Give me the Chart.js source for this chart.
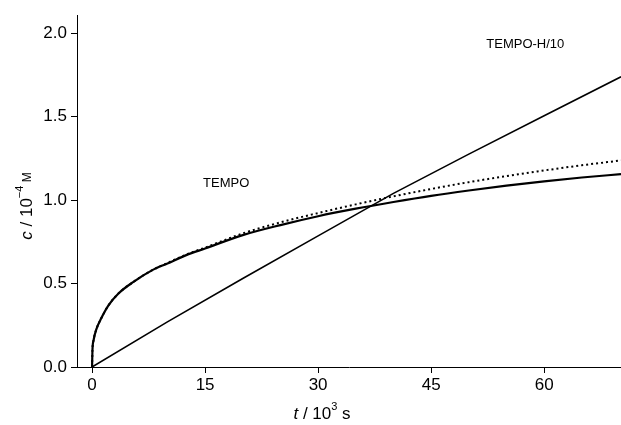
<!DOCTYPE html>
<html>
<head>
<meta charset="utf-8">
<script src="https://cdn.jsdelivr.net/npm/chart.js@4.4.1/dist/chart.umd.min.js"></script>
<style>
html,body{margin:0;padding:0;background:#fff;}
#wrap{width:621px;height:425px;position:relative;}
</style>
</head>
<body>
<div id="wrap"><canvas id="c" width="621" height="425"></canvas></div>
<script>
// TEMPO (solid, measured)
const tempoT = [0, 0.05, 0.2, 0.6, 1.2, 2.2, 3.5, 5.5, 8, 10, 12.5, 15, 20, 25, 30, 35, 40, 45, 50, 55, 60, 65, 70.2];
const tempoC = [0, 0.10, 0.16, 0.23, 0.29, 0.37, 0.44, 0.51, 0.58, 0.62, 0.67, 0.71, 0.79, 0.85, 0.903, 0.948, 0.988, 1.025, 1.057, 1.086, 1.112, 1.135, 1.155];
// TEMPO (dotted, simulated)
const fitT = [0, 0.05, 0.2, 0.6, 1.2, 2.2, 3.5, 5.5, 8, 10, 12.5, 15, 20, 25, 30, 35, 40, 45, 50, 55, 60, 65, 70.2];
const fitC = [0, 0.10, 0.16, 0.23, 0.29, 0.37, 0.44, 0.51, 0.58, 0.623, 0.673, 0.715, 0.80, 0.866, 0.922, 0.974, 1.022, 1.066, 1.107, 1.143, 1.177, 1.208, 1.237];
// TEMPO-H / 10
const hT = [0, 10, 20, 30, 40, 50, 60, 70.2];
const hC = [0, 0.27, 0.53, 0.785, 1.04, 1.275, 1.505, 1.738];
// Axis ticks
const xTicks = [0, 15, 30, 45, 60];
const yTicks = [0.0, 0.5, 1.0, 1.5, 2.0];

const zip = (xs, ys) => xs.map((x, i) => ({x: x, y: ys[i]}));
const FONT = "'Liberation Sans', Arial, Helvetica, sans-serif";

function drawRuns(ctx, runs, cx, cy) {
  let w = 0;
  runs.forEach(r => { ctx.font = r.font; r.w = ctx.measureText(r.text).width; w += r.w; });
  let x = cx - w / 2;
  ctx.textBaseline = 'middle';
  ctx.textAlign = 'left';
  runs.forEach(r => { ctx.font = r.font; ctx.fillText(r.text, x, cy + (r.dy || 0)); x += r.w; });
}

const textPlugin = {
  id: 'texts',
  afterDraw(chart) {
    const ctx = chart.ctx;
    const xs = chart.scales.x, ys = chart.scales.y;
    ctx.save();
    ctx.fillStyle = '#000';
    // series labels
    ctx.font = '13px ' + FONT;
    ctx.textAlign = 'center';
    ctx.textBaseline = 'middle';
    ctx.fillText('TEMPO', xs.getPixelForValue(17.8), ys.getPixelForValue(1.10));
    ctx.fillText('TEMPO-H/10', xs.getPixelForValue(57.5), ys.getPixelForValue(1.93));
    // x title
    drawRuns(ctx, [
      {text: 't', font: 'italic 17px ' + FONT},
      {text: ' / 10', font: '17px ' + FONT},
      {text: '3', font: '11px ' + FONT, dy: -7},
      {text: ' s', font: '17px ' + FONT}
    ], 322, 414);
    // y title
    ctx.translate(27, 206);
    ctx.rotate(-Math.PI / 2);
    drawRuns(ctx, [
      {text: 'c', font: 'italic 17px ' + FONT},
      {text: ' / 10', font: '17px ' + FONT},
      {text: '\u22124', font: '11px ' + FONT, dy: -7},
      {text: ' M', font: '12px ' + FONT, dy: 1}
    ], 0, 0);
    ctx.restore();
  }
};

new Chart(document.getElementById('c'), {
  type: 'line',
  data: {
    datasets: [
      {label: 'TEMPO', data: zip(tempoT, tempoC), borderColor: '#000', borderWidth: 2.2,
       pointRadius: 0, cubicInterpolationMode: 'monotone', fill: false},
      {label: 'TEMPO sim', data: zip(fitT, fitC), borderColor: '#000', borderWidth: 2,
       borderDash: [2, 3], pointRadius: 0, cubicInterpolationMode: 'monotone', fill: false},
      {label: 'TEMPO-H/10', data: zip(hT, hC), borderColor: '#000', borderWidth: 1.6,
       pointRadius: 0, tension: 0, fill: false}
    ]
  },
  options: {
    responsive: false,
    animation: false,
    devicePixelRatio: 1,
    layout: {padding: {top: 15, right: 0, left: 0, bottom: 0}},
    plugins: {legend: {display: false}, tooltip: {enabled: false}},
    scales: {
      x: {
        type: 'linear', min: -2, max: 70.2,
        afterFit(s) { s.height = 58; },
        afterBuildTicks(s) { s.ticks = xTicks.map(v => ({value: v})); },
        grid: {display: true, drawOnChartArea: false, drawTicks: true, tickLength: 6, color: '#000', lineWidth: 1},
        border: {display: true, color: '#000', width: 1},
        ticks: {color: '#000', font: {family: FONT, size: 17}, padding: 2, maxRotation: 0,
                callback: v => String(v)}
      },
      y: {
        type: 'linear', min: 0, max: 2.108,
        afterFit(s) { s.width = 77; },
        afterBuildTicks(s) { s.ticks = yTicks.map(v => ({value: v})); },
        grid: {display: true, drawOnChartArea: false, drawTicks: true, tickLength: 6, color: '#000', lineWidth: 1},
        border: {display: true, color: '#000', width: 1},
        ticks: {color: '#000', font: {family: FONT, size: 17}, padding: 4,
                callback: v => Number(v).toFixed(1)}
      }
    }
  },
  plugins: [textPlugin]
});
</script>
</body>
</html>
